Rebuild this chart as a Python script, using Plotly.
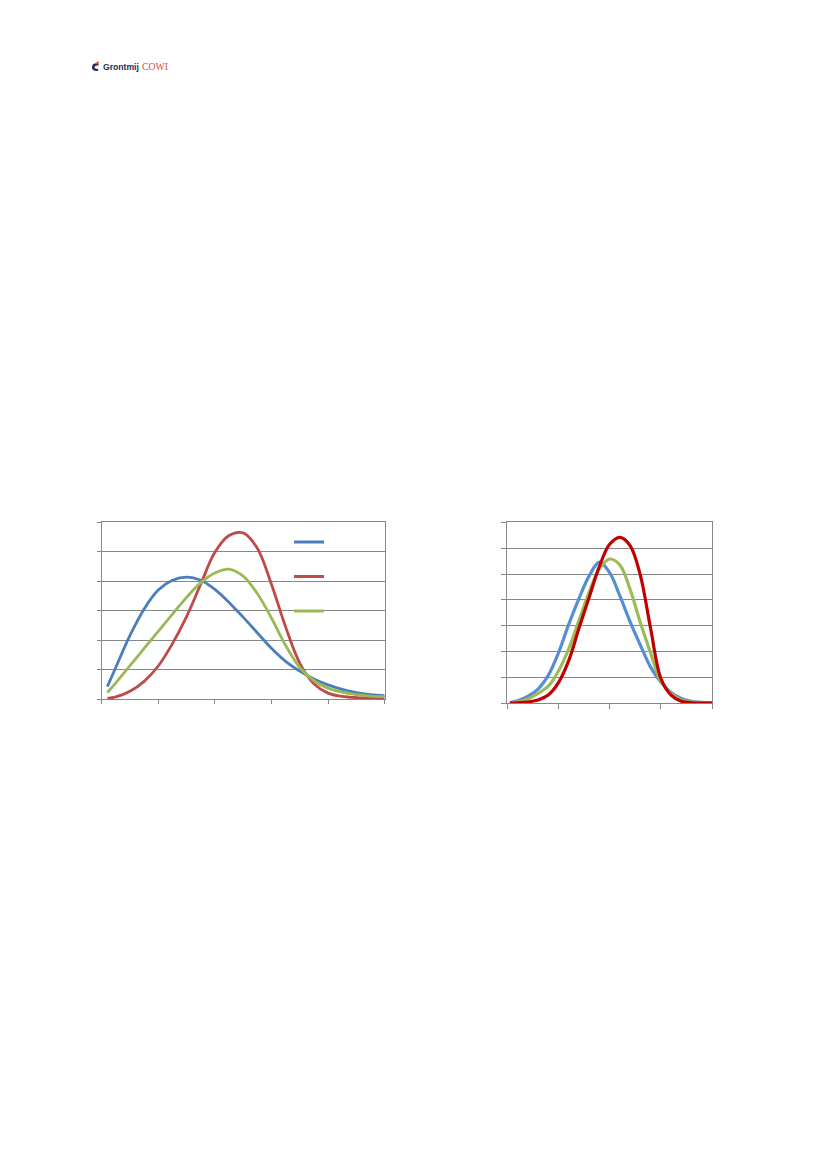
import plotly.graph_objects as go

W, H = 827, 1170

# ---------------- Chart 1 data ----------------
x1 = [0.1, 0.25, 0.5, 0.75, 1.0, 1.25, 1.5, 1.75, 2.0, 2.25, 2.5, 2.75,
      3.0, 3.25, 3.5, 3.75, 4.0, 4.25, 4.5, 4.75, 5.0]
blue1 = [0.42, 1.08, 2.16, 3.06, 3.7, 4.03, 4.14, 4.03, 3.72, 3.28, 2.78, 2.25,
         1.72, 1.28, 0.95, 0.68, 0.48, 0.33, 0.22, 0.15, 0.11]
red1 = [0.02, 0.07, 0.26, 0.6, 1.12, 1.88, 2.8, 3.9, 4.98, 5.55, 5.64, 5.12,
        3.9, 2.45, 1.22, 0.52, 0.2, 0.09, 0.05, 0.04, 0.04]
green1 = [0.22, 0.55, 1.13, 1.72, 2.3, 2.88, 3.45, 3.95, 4.28, 4.41, 4.17, 3.58,
          2.75, 1.82, 1.07, 0.62, 0.37, 0.23, 0.15, 0.1, 0.08]

# ---------------- Chart 2 data ----------------
x2 = [0.05, 0.2, 0.4, 0.6, 0.8, 1.0, 1.2, 1.4, 1.6, 1.8, 2.0, 2.2, 2.4, 2.6,
      2.8, 3.0, 3.2, 3.4, 3.6, 3.8, 4.0]
blue2 = [0.03, 0.1, 0.27, 0.55, 1.08, 1.95, 3.05, 4.05, 4.93, 5.46, 5.05, 4.15,
         3.15, 2.25, 1.4, 0.82, 0.42, 0.19, 0.08, 0.04, 0.02]
green2 = [0.02, 0.06, 0.17, 0.38, 0.66, 1.25, 2.1, 3.2, 4.3, 5.2, 5.58, 5.35,
          4.4, 3.12, 1.95, 0.85, 0.38, 0.13, 0.05, 0.02, 0.01]
red2 = [0.01, 0.02, 0.05, 0.13, 0.32, 0.8, 1.65, 2.9, 4.1, 5.3, 6.15, 6.42,
        6.1, 4.95, 2.9, 0.97, 0.32, 0.08, 0.02, 0.01, 0.01]

# colours
C1_BLUE, C1_RED, C1_GREEN = "#4A7EBB", "#BE4B48", "#98B954"
C2_BLUE, C2_GREEN, C2_RED = "#558ED5", "#9BBB59", "#C00000"
GRID = "#878787"


def px(x):
    return x / W


def py(y):
    return 1 - y / H


fig = go.Figure()

# chart 1 traces
for ys, col in [(blue1, C1_BLUE), (red1, C1_RED), (green1, C1_GREEN)]:
    fig.add_trace(go.Scatter(x=x1, y=ys, mode="lines", name="",
                             line=dict(color=col, width=2.8, shape="spline", smoothing=1.0),
                             xaxis="x", yaxis="y", showlegend=True,
                             legendgroup=col))

# chart 2 traces
for ys, col in [(blue2, C2_BLUE), (green2, C2_GREEN), (red2, C2_RED)]:
    fig.add_trace(go.Scatter(x=x2, y=ys, mode="lines", name="",
                             line=dict(color=col, width=3.2, shape="spline", smoothing=1.0),
                             xaxis="x2", yaxis="y2", showlegend=False))

axis_common = dict(gridcolor=GRID, gridwidth=1, zeroline=False,
                   showline=True, linecolor=GRID, linewidth=1, mirror=True,
                   ticks="outside", tickcolor=GRID, showticklabels=False,
                   fixedrange=True)

fig.update_layout(
    width=W, height=H, autosize=False,
    margin=dict(l=0, r=0, t=0, b=0),
    paper_bgcolor="white", plot_bgcolor="white",
    xaxis=dict(domain=[px(101.7), px(384.6)], range=[0, 5], dtick=1, tick0=0,
               ticklen=4, anchor="y", showgrid=False, **axis_common),
    yaxis=dict(domain=[py(699), py(522.3)], range=[0, 6], dtick=1, tick0=0,
               ticklen=4, anchor="x", showgrid=True, **axis_common),
    xaxis2=dict(domain=[px(507.3), px(712)], range=[0, 4], dtick=1, tick0=0,
                ticklen=5, anchor="y2", showgrid=False, **axis_common),
    yaxis2=dict(domain=[py(703.3), py(522.3)], range=[0, 7], dtick=1, tick0=0,
                ticklen=5, anchor="x2", showgrid=True, **axis_common),
    showlegend=True,
    legend=dict(x=px(289), y=py(527.5), xanchor="left", yanchor="top",
                bgcolor="rgba(0,0,0,0)", borderwidth=0, tracegroupgap=15.5,
                font=dict(size=11), itemclick=False, itemdoubleclick=False),
    shapes=[
        # white legend area covering the gridlines
        dict(type="rect", xref="paper", yref="paper", layer="between",
             x0=px(288), x1=px(383.5), y0=py(622), y1=py(524),
             fillcolor="white", line=dict(width=0)),
        # logo icon
        dict(type="path", xref="paper", yref="paper", layer="above",
             path=(f"M {px(98.5)},{py(63.4)} Q {px(91.8)},{py(62.8)} {px(92)},{py(67.2)} "
                   f"Q {px(92.2)},{py(71.6)} {px(98.2)},{py(70.8)} L {px(98.2)},{py(68.8)} "
                   f"Q {px(94.6)},{py(69.4)} {px(94.5)},{py(67.2)} "
                   f"Q {px(94.5)},{py(65.2)} {px(98.5)},{py(65.5)} Z"),
             fillcolor="#1B2B55", line=dict(width=0)),
        dict(type="line", xref="paper", yref="paper", layer="above",
             x0=px(95.8), y0=py(64.2), x1=px(98.6), y1=py(61.8),
             line=dict(color="#E8452C", width=1.6)),
    ],
    annotations=[
        dict(text="<b>Grontmij</b>", x=px(100.8), y=py(67), xref="paper", yref="paper",
             xanchor="left", yanchor="middle", showarrow=False,
             font=dict(family="Liberation Sans, Arial, sans-serif", size=8.6, color="#1B2B55")),
        dict(text="COWI", x=px(139.5), y=py(66.6), xref="paper", yref="paper",
             xanchor="left", yanchor="middle", showarrow=False,
             font=dict(family="Liberation Serif, Times New Roman, serif", size=9.8, color="#E8452C")),
    ],
)

fig.write_html("out.html", config={"displayModeBar": False, "staticPlot": True},
               post_script="document.body.style.margin='0';document.body.style.overflow='hidden';")
